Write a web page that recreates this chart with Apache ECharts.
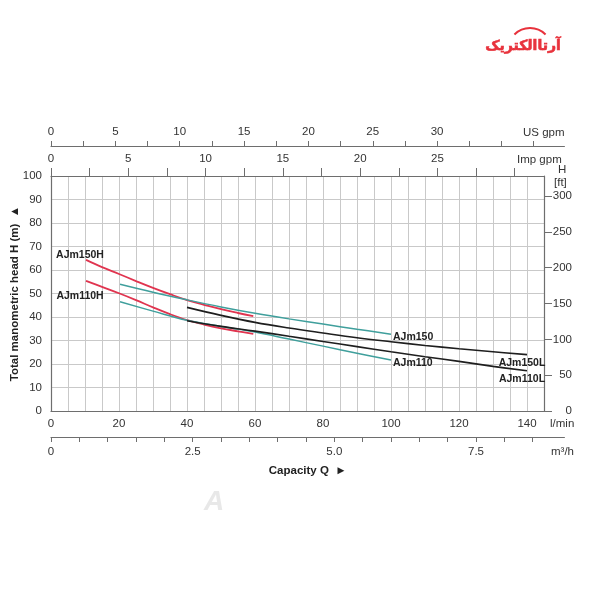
<!DOCTYPE html>
<html>
<head>
<meta charset="utf-8">
<script src="https://cdn.jsdelivr.net/npm/echarts@6/dist/echarts.min.js"></script>
<style>html,body{margin:0;padding:0;background:#fff}#c{width:600px;height:600px}</style>
</head>
<body>
<div id="c"></div>
<script>
// ---- data (Q in l/min, H in m) ----
var q150H = [10.3, 15, 20, 25, 30, 35, 40, 45, 50, 55, 59.5];
var h150H = [64.3, 61.2, 58.3, 55.3, 52.4, 49.7, 47.2, 45.2, 43.3, 41.7, 40.4];
var q110H = [10.3, 15, 20, 25, 30, 35, 40, 45, 50, 55, 59.5];
var h110H = [55.4, 52.8, 50.1, 47.2, 44.1, 41.2, 38.7, 36.8, 35.2, 33.9, 32.8];
var q150 = [20.3, 30, 40, 50, 60, 70, 80, 90, 100];
var h150 = [53.9, 50.5, 47.3, 44.3, 41.6, 39.2, 37.0, 34.8, 32.7];
var q110 = [20.3, 30, 40, 50, 60, 70, 80, 90, 100];
var h110 = [46.5, 42.5, 38.6, 36.0, 33.6, 30.6, 27.6, 24.6, 21.7];
var q150L = [40, 50, 60, 70, 80, 90, 100, 110, 120, 130, 140];
var h150L = [44.1, 40.7, 37.7, 35.3, 33.2, 31.2, 29.5, 27.9, 26.5, 25.2, 24.0];
var q110L = [40, 50, 60, 70, 80, 90, 100, 110, 120, 130, 140];
var h110L = [38.4, 36.0, 34.0, 31.8, 29.6, 27.4, 25.2, 23.1, 21.1, 19.0, 17.1];

// ---- tick labels ----
var lminLabels = [0, 20, 40, 60, 80, 100, 120, 140];
var m3hLabels = [0, 2.5, 5.0, 7.5];
var usLabels = [0, 5, 10, 15, 20, 25, 30];
var impLabels = [0, 5, 10, 15, 20, 25];
var ftLabels = [0, 50, 100, 150, 200, 250, 300];

// unit conversions and scale extents
var LPM_PER_M3H = 1000 / 60, LPM_PER_USGPM = 3.78541, LPM_PER_IMPGPM = 4.54609, M_PER_FT = 0.3048;
var QMAX = 145, HMAX = 100;
var IMP_MAX = 30, US_MAX = 37.5, M3H_MAX = 8.5, FT_MAX = 300, EXT_QMAX = 151;

var L = 51, TOP = 176, BOT = 411, W = 600, H = 600;
var PX_PER_LPM = (544 - L) / QMAX, PX_PER_M = (BOT - TOP) / HMAX;
function rightFor(lpm) { return W - L - lpm * PX_PER_LPM; }

function pairs(q, h) { return q.map(function (v, i) { return [v, h[i]]; }); }
function only(list) { return function (v) { return list.some(function (x) { return Math.abs(x - v) < 1e-6; }) ? String(v) : ''; }; }

var FONT = 'Liberation Sans';
var axisGray = '#6e6e6e';
var txt = '#333';
var FS = 11.5;

function curve(name, q, h, color, width, labelIdx, lab) {
  return {
    type: 'line', name: name, xAxisIndex: 0, yAxisIndex: 0,
    data: pairs(q, h), smooth: 0.4, symbol: 'circle', symbolSize: 0,
    showSymbol: true, showAllSymbol: true,
    lineStyle: { color: color, width: width }, itemStyle: { color: color },
    label: Object.assign({
      show: true, fontFamily: FONT, fontWeight: 'bold', fontSize: 10.5, color: '#222',
      formatter: function (p) { return p.dataIndex === labelIdx ? name : ''; }
    }, lab),
    emphasis: { disabled: true }, silent: true, z: 3
  };
}
var lineOnly = { show: true, onZero: false, lineStyle: { color: axisGray, width: 1.2 } };
var noLine = { show: false, onZero: false };
function hiddenAxis(gi) { return { type: 'value', gridIndex: gi, min: 0, max: 1, show: false, axisLine: { onZero: false } }; }

var grids = [
  { left: L, right: rightFor(QMAX), top: TOP, bottom: H - BOT },                          // 0 main
  { left: L, right: rightFor(IMP_MAX * LPM_PER_IMPGPM), top: TOP, bottom: H - BOT },      // 1 imp gpm
  { left: L, right: rightFor(US_MAX * LPM_PER_USGPM), top: 146, bottom: 163 },            // 2 US gpm
  { left: L, right: rightFor(M3H_MAX * LPM_PER_M3H), top: 146, bottom: 163 },             // 3 m3/h
  { left: L, right: rightFor(EXT_QMAX), top: 146, bottom: 163 },                          // 4 extended lines
  { left: L, right: rightFor(QMAX), top: BOT - FT_MAX * M_PER_FT * PX_PER_M, bottom: H - BOT } // 5 ft
].map(function (g) { g.outerBoundsMode = 'none'; g.containLabel = false; return g; });

var chart = echarts.init(document.getElementById('c'), null, { renderer: 'canvas' });
chart.setOption({
  backgroundColor: '#fff',
  animation: false,
  textStyle: { fontFamily: FONT },
  grid: grids,
  xAxis: [
    { type: 'value', gridIndex: 0, position: 'bottom', min: 0, max: QMAX, interval: 5,
      axisLine: lineOnly, axisTick: { show: false },
      axisLabel: { formatter: only(lminLabels), margin: 7, fontSize: FS, color: txt },
      splitLine: { show: true, lineStyle: { color: '#c9c9c9', width: 1 } } },
    { type: 'value', gridIndex: 0, position: 'top', min: 0, max: QMAX,
      axisLine: lineOnly, axisTick: { show: false }, axisLabel: { show: false }, splitLine: { show: false } },
    { type: 'value', gridIndex: 1, position: 'top', min: 0, max: IMP_MAX, interval: 2.5,
      axisLine: noLine,
      axisTick: { show: true, inside: false, length: 8, lineStyle: { color: axisGray } },
      axisLabel: { formatter: only(impLabels), margin: 11, fontSize: FS, color: txt },
      splitLine: { show: false } },
    { type: 'value', gridIndex: 2, position: 'top', min: 0, max: US_MAX, interval: 2.5,
      axisLine: noLine,
      axisTick: { show: true, inside: false, length: 5, lineStyle: { color: axisGray } },
      axisLabel: { formatter: only(usLabels), margin: 8, fontSize: FS, color: txt },
      splitLine: { show: false } },
    { type: 'value', gridIndex: 3, position: 'bottom', min: 0, max: M3H_MAX, interval: 0.5,
      axisLine: noLine,
      axisTick: { show: true, inside: false, length: 5, lineStyle: { color: axisGray } },
      axisLabel: { margin: 9, fontSize: FS, color: txt,
        formatter: function (v) { return m3hLabels.indexOf(v) < 0 ? '' : (v === 0 ? '0' : v.toFixed(1)); } },
      splitLine: { show: false } },
    { type: 'value', gridIndex: 4, position: 'top', min: 0, max: EXT_QMAX,
      axisLine: lineOnly, axisTick: { show: false }, axisLabel: { show: false }, splitLine: { show: false } },
    { type: 'value', gridIndex: 4, position: 'bottom', min: 0, max: EXT_QMAX,
      axisLine: lineOnly, axisTick: { show: false }, axisLabel: { show: false }, splitLine: { show: false },
      name: 'Capacity Q  \u25BA', nameLocation: 'middle', nameGap: 28, nameMoveOverlap: false,
      nameTextStyle: { fontSize: FS, fontWeight: 'bold', color: '#222' } },
    { type: 'value', gridIndex: 5, min: 0, max: 1, show: false, axisLine: { onZero: false } }
  ],
  yAxis: [
    { type: 'value', gridIndex: 0, position: 'left', min: 0, max: HMAX, interval: 10,
      axisLine: lineOnly, axisTick: { show: false },
      axisLabel: { margin: 9, fontSize: FS, color: txt },
      splitLine: { show: true, lineStyle: { color: '#c9c9c9', width: 1 } },
      name: 'Total manometric head H (m)  \u25B2', nameLocation: 'middle', nameGap: 30, nameMoveOverlap: false,
      nameTextStyle: { fontSize: FS, fontWeight: 'bold', color: '#222' } },
    { type: 'value', gridIndex: 0, position: 'right', min: 0, max: HMAX,
      axisLine: lineOnly, axisTick: { show: false }, axisLabel: { show: false }, splitLine: { show: false } },
    hiddenAxis(1), hiddenAxis(2), hiddenAxis(3), hiddenAxis(4),
    { type: 'value', gridIndex: 5, position: 'right', min: 0, max: FT_MAX, interval: 50,
      axisLine: noLine,
      axisTick: { show: true, inside: false, length: 8, lineStyle: { color: axisGray } },
      axisLabel: { formatter: only(ftLabels), margin: 28, align: 'right', fontSize: FS, color: txt },
      splitLine: { show: false } }
  ],
  series: [
    curve('AJm150H', q150H, h150H, '#e0344f', 1.8, 0, { position: 'top', offset: [-6, 6] }),
    curve('AJm110H', q110H, h110H, '#e0344f', 1.8, 0, { position: 'bottom', offset: [-6, 5] }),
    curve('AJm150', q150, h150, '#3f9f9c', 1.5, q150.length - 1, { position: 'right', distance: 2, offset: [0, 3] }),
    curve('AJm110', q110, h110, '#3f9f9c', 1.5, q110.length - 1, { position: 'right', distance: 2, offset: [0, 3] }),
    curve('AJm150L', q150L, h150L, '#1e1e1e', 1.6, q150L.length - 1, { position: 'bottom', distance: 3, offset: [-5, 0] }),
    curve('AJm110L', q110L, h110L, '#1e1e1e', 1.6, q110L.length - 1, { position: 'bottom', distance: 3, offset: [-5, 0] })
  ],
  graphic: [
    { type: 'text', left: 523, top: 127, style: { text: 'US gpm', fontSize: FS, fill: txt, fontFamily: FONT } },
    { type: 'text', left: 517, top: 154, style: { text: 'Imp gpm', fontSize: FS, fill: txt, fontFamily: FONT } },
    { type: 'text', left: 558, top: 164, style: { text: 'H', fontSize: FS, fill: txt, fontFamily: FONT } },
    { type: 'text', left: 554, top: 177, style: { text: '[ft]', fontSize: FS, fill: txt, fontFamily: FONT } },
    { type: 'text', left: 550, top: 418, style: { text: 'l/min', fontSize: FS, fill: txt, fontFamily: FONT } },
    { type: 'text', left: 551, top: 446, style: { text: 'm\u00B3/h', fontSize: FS, fill: txt, fontFamily: FONT } },
    { type: 'text', x: 523, y: 46, style: { text: '\u0622\u0631\u062A\u0627\u0627\u0644\u06A9\u062A\u0631\u06CC\u06A9', fontSize: 14, fontWeight: 'bold', fill: '#e8323c', fontFamily: 'DejaVu Sans', align: 'center', verticalAlign: 'middle', stroke: '#e8323c', lineWidth: 0.6 } },
    { type: 'arc', shape: { cx: 530, cy: 50, r: 22, startAngle: Math.PI * 1.25, endAngle: Math.PI * 1.75 }, style: { stroke: '#e8323c', lineWidth: 2, fill: null } },
    { type: 'text', left: 204, top: 488, style: { text: 'A', fontSize: 28, fontWeight: 'bold', fontStyle: 'italic', fill: '#e8e8e8', fontFamily: FONT } }
  ]
});
</script>
</body>
</html>
